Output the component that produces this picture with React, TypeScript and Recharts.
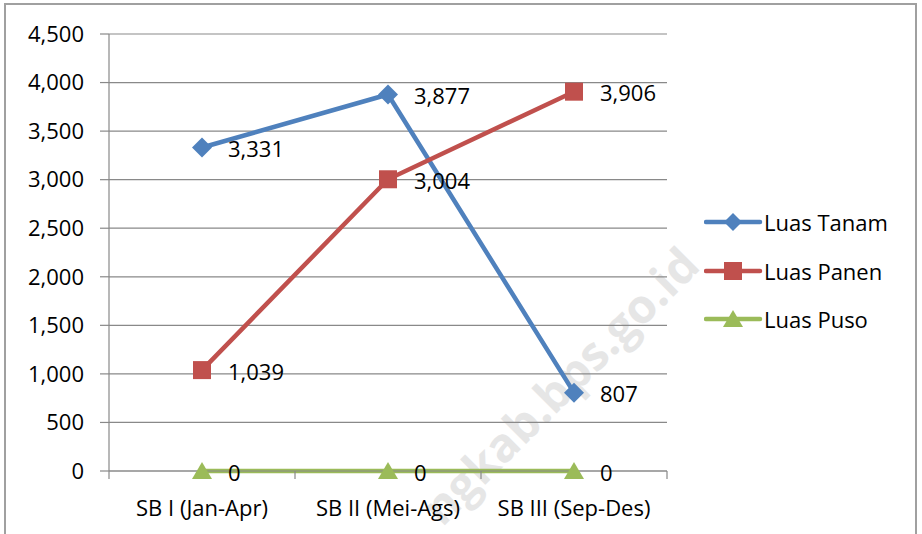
import React from 'react';
import { LineChart, Line, XAxis, YAxis, CartesianGrid, LabelList, Legend } from 'recharts';

const categories = ['SB I (Jan-Apr)', 'SB II (Mei-Ags)', 'SB III (Sep-Des)'];
const luasTanam = [3331, 3877, 807];
const luasPanen = [1039, 3004, 3906];
const luasPuso = [0, 0, 0];
const yTicks = [0, 500, 1000, 1500, 2000, 2500, 3000, 3500, 4000, 4500];
const seriesNames = ['Luas Tanam', 'Luas Panen', 'Luas Puso'];
const watermark = 'ngkab.bps.go.id';

const data = categories.map((c, i) => ({
  name: c,
  tanam: luasTanam[i],
  panen: luasPanen[i],
  puso: luasPuso[i],
}));

const FONT = '"Open Sans", sans-serif';
const BLUE = '#4F81BD';
const RED = '#C0504D';
const GREEN = '#9BBB59';
const GRID = '#898989';
const X_TICK_MARGIN = 31;
const EDGE_TICK = 8;

const fmt = (v: number) => v.toLocaleString('en-US');

const Diamond = (props: any) => {
  const { cx, cy } = props;
  if (cx == null || cy == null) return null;
  const r = 10;
  return <polygon points={`${cx},${cy - r} ${cx + r},${cy} ${cx},${cy + r} ${cx - r},${cy}`} fill={BLUE} />;
};
const Square = (props: any) => {
  const { cx, cy } = props;
  if (cx == null || cy == null) return null;
  const r = 9;
  return <rect x={cx - r} y={cy - r} width={2 * r} height={2 * r} fill={RED} />;
};
const Triangle = (props: any) => {
  const { cx, cy } = props;
  if (cx == null || cy == null) return null;
  return <polygon points={`${cx},${cy - 9} ${cx + 10},${cy + 8} ${cx - 10},${cy + 8}`} fill={GREEN} />;
};

// Category tick: label at band centre, tick marks at band edges (from the band offset Recharts supplies)
const CategoryTick = (props: any) => {
  const { x, y, payload, index, visibleTicksCount } = props;
  const half = payload && payload.offset ? payload.offset : 0;
  const axisY = y - X_TICK_MARGIN;
  const last = index === (visibleTicksCount ?? categories.length) - 1;
  return (
    <g>
      <line x1={x - half} y1={axisY} x2={x - half} y2={axisY + EDGE_TICK} stroke={GRID} strokeWidth={1.2} />
      {last && <line x1={x + half} y1={axisY} x2={x + half} y2={axisY + EDGE_TICK} stroke={GRID} strokeWidth={1.2} />}
      <text x={x} y={y} dy="0.63em" textAnchor="middle" fontFamily={FONT} fontSize={22} fill="#000">
        {payload.value}
      </text>
    </g>
  );
};

const legendItems = [
  { name: seriesNames[0], color: BLUE, shape: 'diamond' },
  { name: seriesNames[1], color: RED, shape: 'square' },
  { name: seriesNames[2], color: GREEN, shape: 'triangle' },
];

const LegendContent = () => (
  <div>
    {legendItems.map((it) => (
      <div key={it.name} style={{ display: 'flex', alignItems: 'center', height: 48.5 }}>
        <svg width={60} height={24} style={{ display: 'block' }}>
          <line x1={2} y1={12} x2={56} y2={12} stroke={it.color} strokeWidth={4.5} strokeLinecap="round" />
          {it.shape === 'diamond' && <polygon points="29,3 38,12 29,21 20,12" fill={it.color} />}
          {it.shape === 'square' && <rect x={20} y={3} width={18} height={18} fill={it.color} />}
          {it.shape === 'triangle' && <polygon points="29,3 39,20 19,20" fill={it.color} />}
        </svg>
        <span style={{ fontFamily: FONT, fontSize: 22, color: '#000', whiteSpace: 'nowrap' }}>{it.name}</span>
      </div>
    ))}
  </div>
);

export default function App() {
  return (
    <div style={{ position: 'absolute', left: 0, top: 0, width: 922, height: 534, background: '#fff', overflow: 'hidden' }}>
      <div
        style={{
          position: 'absolute',
          left: 4,
          top: 3,
          width: 913,
          height: 560,
          border: '2px solid #a0a0a0',
          boxSizing: 'border-box',
        }}
      />
      <svg width={922} height={534} style={{ position: 'absolute', left: 0, top: 0 }}>
        <text
          x={702}
          y={268}
          textAnchor="end"
          transform="rotate(-45 702 268)"
          fontFamily={FONT}
          fontWeight={700}
          fontSize={47}
          fill="#e6e6e6"
        >
          {watermark}
        </text>
      </svg>
      <div style={{ position: 'absolute', left: 0, top: 0 }}>
        <LineChart width={922} height={534} data={data} margin={{ top: 34, right: 255, bottom: 0, left: 0 }}>
          <CartesianGrid horizontal vertical={false} stroke={GRID} strokeWidth={1.2} />
          <XAxis
            dataKey="name"
            scale="band"
            height={63}
            axisLine={{ stroke: GRID, strokeWidth: 1.2 }}
            tickLine={false}
            tickSize={0}
            tickMargin={X_TICK_MARGIN}
            tick={<CategoryTick />}
            interval={0}
          />
          <YAxis
            width={109}
            domain={[0, 4500]}
            ticks={yTicks}
            tickFormatter={fmt}
            axisLine={{ stroke: GRID, strokeWidth: 1.2 }}
            tickLine={{ stroke: GRID, strokeWidth: 1.2 }}
            tickSize={9}
            tickMargin={16}
            tick={{ fontFamily: FONT, fontSize: 22, fill: '#000' }}
            interval={0}
          />
          <Legend
            layout="vertical"
            align="center"
            verticalAlign="middle"
            content={<LegendContent />}
            wrapperStyle={{ left: 704, top: 198, width: 210 }}
          />
          <Line
            dataKey="tanam"
            name={seriesNames[0]}
            stroke={BLUE}
            strokeWidth={4.5}
            dot={<Diamond />}
            activeDot={false}
            isAnimationActive={false}
          >
            <LabelList dataKey="tanam" position="right" offset={26} formatter={fmt} fontFamily={FONT} fontSize={22} fill="#000" dy={2} />
          </Line>
          <Line
            dataKey="panen"
            name={seriesNames[1]}
            stroke={RED}
            strokeWidth={4.5}
            dot={<Square />}
            activeDot={false}
            isAnimationActive={false}
          >
            <LabelList dataKey="panen" position="right" offset={26} formatter={fmt} fontFamily={FONT} fontSize={22} fill="#000" dy={2} />
          </Line>
          <Line
            dataKey="puso"
            name={seriesNames[2]}
            stroke={GREEN}
            strokeWidth={4.5}
            dot={<Triangle />}
            activeDot={false}
            isAnimationActive={false}
          >
            <LabelList dataKey="puso" position="right" offset={26} formatter={fmt} fontFamily={FONT} fontSize={22} fill="#000" dy={2} />
          </Line>
        </LineChart>
      </div>
    </div>
  );
}
